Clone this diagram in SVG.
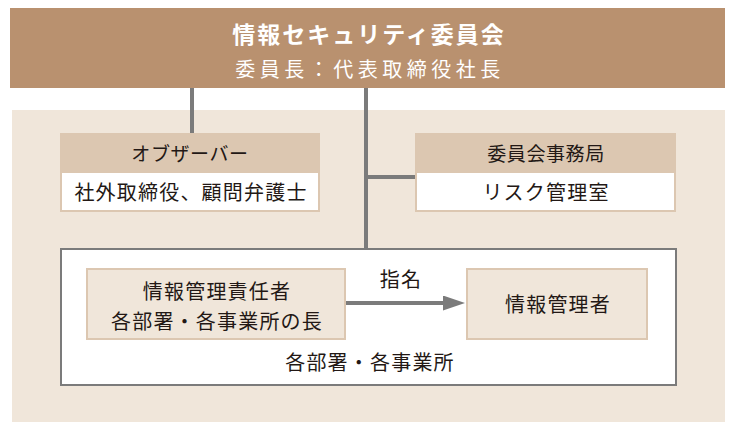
<svg xmlns="http://www.w3.org/2000/svg" width="739" height="435" viewBox="0 0 739 435">
<defs>
<style>
text{font-family:"Noto Sans CJK JP","Noto Sans",sans-serif;text-anchor:middle;fill:#231815}
.w{fill:#ffffff}
.hd{fill:#dcc7b1}
.bd{fill:#ffffff;stroke:#dcc7b1;stroke-width:2}
.in{fill:#f0e6da;stroke:#dcc7b1;stroke-width:2}
.ln{stroke:#7b7b7b;stroke-width:4;fill:none}
.t{font-size:20px;letter-spacing:1.2px}
.h{font-size:19px;letter-spacing:0.6px}
</style>
<marker id="ah" markerWidth="22" markerHeight="15" refX="7" refY="7.5" orient="auto" markerUnits="userSpaceOnUse">
<path d="M0,0 L22,7.5 L0,15 Z" fill="#7b7b7b"/>
</marker>
</defs>
<rect x="12" y="110" width="713" height="312" fill="#f0e6da"/>
<g id="committee">
<rect x="10" y="8" width="715" height="80" fill="#b9916f"/>
<text class="w" x="369" y="43" font-size="23" font-weight="bold" letter-spacing="2">情報セキュリティ委員会</text>
<text class="w" x="370" y="77" font-size="20" letter-spacing="4.5">委員長：代表取締役社長</text>
</g>
<g id="observer">
<rect class="bd" x="61" y="134" width="258" height="77"/>
<rect class="hd" x="60" y="133" width="260" height="40"/>
<text class="h" x="190" y="161">オブザーバー</text>
<text class="t" x="191" y="200">社外取締役、顧問弁護士</text>
</g>
<g id="secretariat">
<rect class="bd" x="416" y="134" width="259" height="77"/>
<rect class="hd" x="415" y="133" width="261" height="40"/>
<text class="h" x="546" y="161">委員会事務局</text>
<text class="t" x="546" y="200">リスク管理室</text>
</g>
<g id="departments">
<rect x="61" y="249" width="615" height="136" fill="#ffffff" stroke="#7b7b7b" stroke-width="2"/>
<text class="t" x="370" y="370">各部署・各事業所</text>
</g>
<g id="manager-resp">
<rect class="in" x="87" y="269" width="258" height="70"/>
<text class="t" x="217" y="299">情報管理責任者</text>
<text class="t" x="217" y="329">各部署・各事業所の長</text>
</g>
<g id="manager">
<rect class="in" x="467" y="269" width="180" height="70"/>
<text class="t" x="558" y="312">情報管理者</text>
</g>
<g id="connectors">
<line class="ln" x1="192" y1="88" x2="192" y2="133"/>
<line class="ln" x1="366" y1="88" x2="366" y2="248"/>
<line class="ln" x1="366" y1="177" x2="415" y2="177"/>
<line class="ln" x1="346" y1="303" x2="450" y2="303" marker-end="url(#ah)"/>
<text class="t" x="401" y="287">指名</text>
</g>
</svg>
